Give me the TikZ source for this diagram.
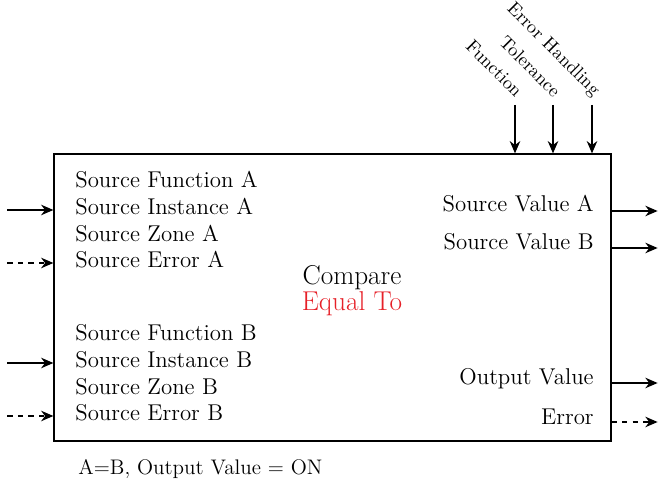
\documentclass[tikz,border=0pt]{standalone}
\usepackage{fontspec}
\usetikzlibrary{arrows.meta, positioning}
\definecolor{cmp_red}{RGB}{230,32,40}
\tikzset{
    block_main/.style={
        rectangle, draw=black, line width=0.7pt,
        minimum width=11.14cm, minimum height=5.74cm, inner sep=0pt
    },
    port_lbl/.style={
        font=\fontsize{13}{15}\selectfont, inner sep=0pt,
        text height=1.6ex, text depth=0.3ex
    },
    top_lbl/.style={
        font=\fontsize{10.5}{12}\selectfont, inner sep=1pt, rotate=-45, anchor=east
    },
    title_lbl/.style={
        font=\fontsize{15.5}{18}\selectfont, inner sep=0pt
    },
    flow_arrow/.style={
        -{Stealth[length=7pt, width=6pt]}, line width=0.7pt, draw=black
    },
    err_arrow/.style={
        flow_arrow, dash pattern=on 3pt off 3pt
    }
}
\begin{document}
\begin{tikzpicture}[>=Stealth]
    \useasboundingbox (0,0) rectangle (13.16,9.76);

    \node[block_main] (block) at (6.65, 3.81) {};

    % inputs A
    \node[port_lbl, anchor=west] (fnA) at (1.50, 6.10) {Source Function A};
    \node[port_lbl, anchor=west] (instA) at (1.50, 5.56) {Source Instance A};
    \node[port_lbl, anchor=west] (zoneA) at (1.50, 5.02) {Source Zone A};
    \node[port_lbl, anchor=west] (errA) at (1.50, 4.50) {Source Error A};
    % inputs B
    \node[port_lbl, anchor=west] (fnB) at (1.50, 3.04) {Source Function B};
    \node[port_lbl, anchor=west] (instB) at (1.50, 2.50) {Source Instance B};
    \node[port_lbl, anchor=west] (zoneB) at (1.50, 1.96) {Source Zone B};
    \node[port_lbl, anchor=west] (errB) at (1.50, 1.44) {Source Error B};

    % outputs
    \node[port_lbl, anchor=east] (valA) at (11.88, 5.62) {Source Value A};
    \node[port_lbl, anchor=east] (valB) at (11.88, 4.86) {Source Value B};
    \node[port_lbl, anchor=east] (outVal) at (11.88, 2.16) {Output Value};
    \node[port_lbl, anchor=east] (outErr) at (11.88, 1.36) {Error};

    \node[title_lbl] (cmp) at (7.04, 4.20) {Compare};
    \node[title_lbl, text=cmp_red] (eq) at (7.04, 3.68) {Equal To};

    \node[port_lbl, font=\fontsize{12}{14}\selectfont, anchor=west] (note) at (1.56, 0.36) {A=B, Output Value = ON};

    % parameters
    \coordinate (fnIn) at (10.30, 7.66);
    \coordinate (tolIn) at (11.06, 7.66);
    \coordinate (ehIn) at (11.84, 7.66);
    \node[top_lbl] (fnLbl) at ([xshift=0.12cm, yshift=0.2cm]fnIn) {Function};
    \node[top_lbl] (tolLbl) at ([xshift=0.12cm, yshift=0.2cm]tolIn) {Tolerance};
    \node[top_lbl] (ehLbl) at ([xshift=0.12cm, yshift=0.2cm]ehIn) {Error Handling};
    \draw[flow_arrow] (fnIn) -- (fnIn |- block.north);
    \draw[flow_arrow] (tolIn) -- (tolIn |- block.north);
    \draw[flow_arrow] (ehIn) -- (ehIn |- block.north);

    \draw[flow_arrow] (block.west |- instA) ++(-0.92,0) -- (block.west |- instA);
    \draw[err_arrow] (block.west |- errA) ++(-0.92,0) -- (block.west |- errA);
    \draw[flow_arrow] (block.west |- instB) ++(-0.92,0) -- (block.west |- instB);
    \draw[err_arrow] (block.west |- errB) ++(-0.92,0) -- (block.west |- errB);

    \draw[flow_arrow] ([yshift=-0.08cm]block.east |- valA) -- ++(0.92,0);
    \draw[flow_arrow] ([yshift=-0.06cm]block.east |- valB) -- ++(0.92,0);
    \draw[flow_arrow] ([yshift=-0.06cm]block.east |- outVal) -- ++(0.92,0);
    \draw[err_arrow] ([yshift=-0.04cm]block.east |- outErr) -- ++(0.92,0);

\end{tikzpicture}
\end{document}
